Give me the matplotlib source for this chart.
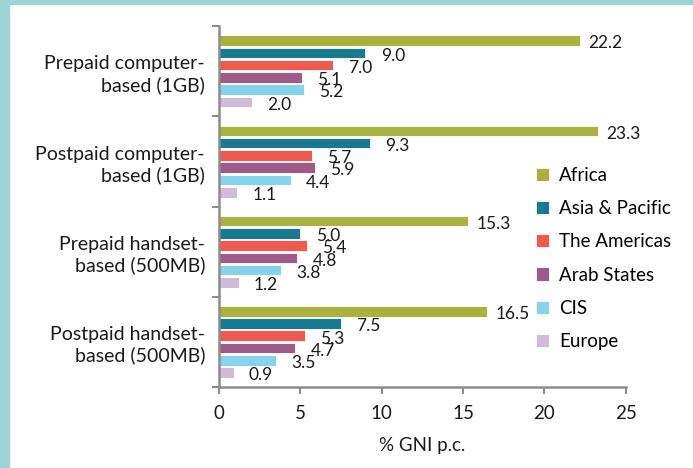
import numpy as np
import matplotlib.pyplot as plt

plt.rcParams['font.family'] = ['Lato', 'DejaVu Sans']

categories = ['Prepaid computer-\nbased (1GB)', 'Postpaid computer-\nbased (1GB)',
              'Prepaid handset-\nbased (500MB)', 'Postpaid handset-\nbased (500MB)']
regions = ['Africa', 'Asia & Pacific', 'The Americas', 'Arab States', 'CIS', 'Europe']
africa = [22.2, 23.3, 15.3, 16.5]
asia_pacific = [9.0, 9.3, 5.0, 7.5]
americas = [7.0, 5.7, 5.4, 5.3]
arab_states = [5.1, 5.9, 4.8, 4.7]
cis = [5.2, 4.4, 3.8, 3.5]
europe = [2.0, 1.1, 1.2, 0.9]
series = [africa, asia_pacific, americas, arab_states, cis, europe]
colors = ['#A9B23F', '#177A91', '#EE5A50', '#9E5B8A', '#87D3EC', '#D0BCD8']
label_dx = [6, 11, 11, 11, 11, 11]

fig = plt.figure(figsize=(6.93, 4.68), dpi=100)
fig.patch.set_facecolor('white')
# teal frame along the left and top edges
fig.patches.append(plt.Rectangle((0, 0), 9 / 693, 1, transform=fig.transFigure,
                                 color='#9DD5D5', zorder=0))
fig.patches.append(plt.Rectangle((0, 1 - 4 / 468), 1, 4 / 468, transform=fig.transFigure,
                                 color='#9DD5D5', zorder=0))

ax = fig.add_axes([0.316, 0.173, 0.587, 0.771])
y = np.arange(len(categories))
step = 0.136
for k, (vals, c) in enumerate(zip(series, colors)):
    pos = y + (k - 2.5) * step
    ax.barh(pos, vals, height=0.118, color=c, edgecolor='white', linewidth=0.6,
            label=regions[k])
    for p, v in zip(pos, vals):
        ax.annotate(f'{v:.1f}', (v, p), xytext=(label_dx[k], -2), textcoords='offset points',
                    ha='left', va='center', fontsize=12.5, color='#1a1a1a')

ax.set_xlim(0, 25)
ax.set_ylim(len(categories) - 0.5, -0.5)
ax.set_xticks(range(0, 26, 5))
ax.set_yticks(np.arange(-0.5, len(categories), 1))
ax.set_yticklabels([])
ax.set_yticks(y, minor=True)
ax.set_yticklabels(categories, minor=True, ha='right', fontsize=14, color='#1a1a1a',
                   linespacing=1.25)
ax.tick_params(axis='y', which='minor', length=0, pad=10)
ax.tick_params(axis='y', which='major', length=5, width=1.5, color='#8C8C8C')
ax.tick_params(axis='x', length=5, width=1.5, color='#8C8C8C', labelsize=13.5,
               labelcolor='#1a1a1a', pad=8)
for s in ['top', 'right']:
    ax.spines[s].set_visible(False)
for s in ['left', 'bottom']:
    ax.spines[s].set_color('#8C8C8C')
    ax.spines[s].set_linewidth(1.8)
ax.set_xlabel('% GNI p.c.', fontsize=13.5, color='#1a1a1a', labelpad=11)

leg = ax.legend(loc='upper left', bbox_to_anchor=(0.76, 0.63), frameon=False,
                fontsize=13.5, handlelength=0.7, handleheight=0.7, handletextpad=0.55,
                labelspacing=0.86, borderaxespad=0)

fig.savefig('out.png', dpi=100)
